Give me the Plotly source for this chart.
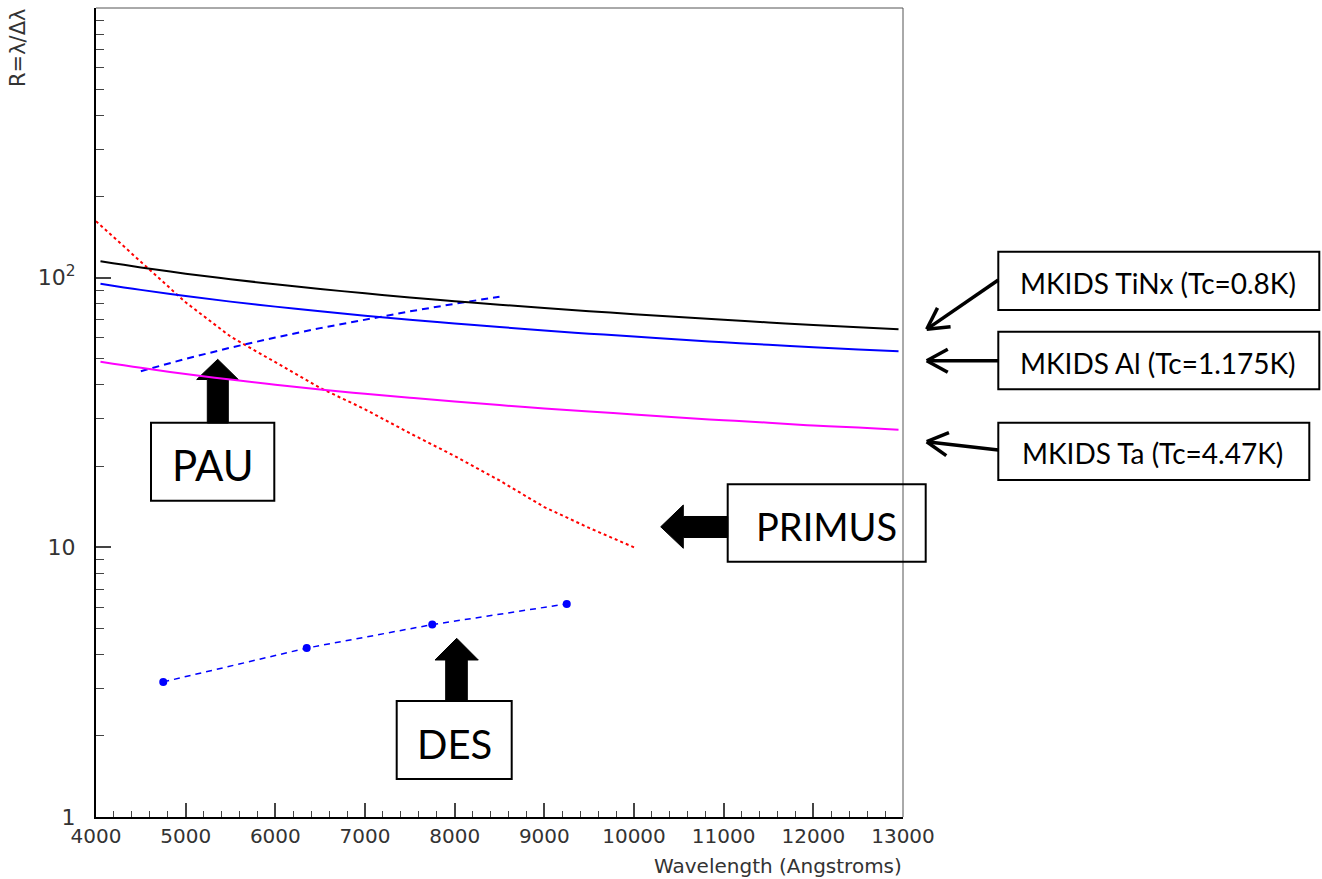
import math
import plotly.graph_objects as go

# ---------------- data ----------------
wl_mkids = [4050, 4500, 5000, 5500, 6000, 6500, 7000, 7500, 8000, 8500, 9000,
            9500, 10000, 10500, 11000, 11500, 12000, 12500, 12950]
r_tinx = [115, 109.1, 103.5, 98.7, 94.5, 90.8, 87.5, 84.5, 81.8, 79.4, 77.1,
          75.1, 73.2, 71.4, 69.8, 68.2, 66.8, 65.5, 64.4]
r_al = [95, 90.1, 85.5, 81.5, 78.1, 75.0, 72.3, 69.8, 67.6, 65.6, 63.7,
        62.0, 60.5, 59.0, 57.6, 56.4, 55.2, 54.1, 53.3]
r_ta = [48.8, 46.3, 43.9, 41.9, 40.1, 38.5, 37.1, 35.9, 34.7, 33.7, 32.7,
        31.9, 31.1, 30.3, 29.6, 29.0, 28.3, 27.8, 27.3]

wl_primus = [4000, 4500, 5000, 5500, 6000, 6500, 7000, 7500, 8000, 8500, 9000, 9500, 10000]
r_primus = [162, 115, 81, 60.5, 48.5, 39, 32.5, 26.5, 21.8, 17.7, 14.1, 11.8, 10.0]

wl_pau = [4500, 5000, 5500, 6000, 6500, 7000, 7500, 8000, 8500]
r_pau = [45, 50, 55, 60, 65, 70, 75, 80, 85]

wl_des = [4750, 6350, 7750, 9250]
r_des = [3.17, 4.23, 5.17, 6.17]

x_ticks = [4000, 5000, 6000, 7000, 8000, 9000, 10000, 11000, 12000, 13000]
x_ticktext = ["4000", "5000", "6000", "7000", "8000", "9000",
              "10000", "11000", "12000", "13000"]
y_ticks = [1, 10, 100]
y_ticktext = ["1", "10", "10<sup>2</sup>"]
y_minor = [2, 3, 4, 5, 6, 7, 8, 9, 20, 30, 40, 50, 60, 70, 80, 90,
           200, 300, 400, 500, 600, 700, 800, 900]

# ---------------- geometry helpers (pixel -> paper) ----------------
W, H = 1322, 879
L, RR, T, B = 96, 903, 8, 817


def px(x):
    return (x - L) / (RR - L)


def py(y):
    return (B - y) / (B - T)


def path(points):
    return "M " + " L ".join(f"{px(x):.5f},{py(y):.5f}" for x, y in points) + " Z"


fig = go.Figure()

fig.add_trace(go.Scatter(x=wl_primus, y=r_primus, mode="lines",
                         line=dict(color="#ff0000", width=2, dash="3px,3px")))
fig.add_trace(go.Scatter(x=wl_pau, y=r_pau, mode="lines",
                         line=dict(color="#0000ff", width=2, dash="7px,5px")))
fig.add_trace(go.Scatter(x=wl_mkids, y=r_tinx, mode="lines",
                         line=dict(color="#000000", width=2, shape="spline")))
fig.add_trace(go.Scatter(x=wl_mkids, y=r_al, mode="lines",
                         line=dict(color="#0000ff", width=2, shape="spline")))
fig.add_trace(go.Scatter(x=wl_mkids, y=r_ta, mode="lines",
                         line=dict(color="#ff00ff", width=2, shape="spline")))
fig.add_trace(go.Scatter(x=wl_des, y=r_des, mode="lines+markers",
                         line=dict(color="#0000ff", width=1.5, dash="6px,5px"),
                         marker=dict(color="#0000ff", size=8)))

shapes = []
# frame top / right
shapes.append(dict(type="line", xref="paper", yref="paper", x0=0, x1=1, y0=1, y1=1,
                   line=dict(color="#555555", width=1)))
shapes.append(dict(type="line", xref="paper", yref="paper", x0=1, x1=1, y0=0, y1=1,
                   line=dict(color="#555555", width=1)))

# block arrows (below traces)
pau_arrow = [(207.3, 423), (207.3, 379.5), (196.7, 379.5), (217.7, 359.3),
             (238.3, 379.5), (228.3, 379.5), (228.3, 423)]
des_arrow = [(445.7, 701), (445.7, 660), (435, 660), (456.7, 638.3),
             (478.3, 660), (467.3, 660), (467.3, 701)]
primus_arrow = [(727.7, 516.5), (683.3, 516.5), (683.3, 505), (660.7, 526.8),
                (683.3, 548.3), (683.3, 537.5), (727.7, 537.5)]
for arr in (pau_arrow, des_arrow, primus_arrow):
    shapes.append(dict(type="path", xref="paper", yref="paper", path=path(arr),
                       fillcolor="black", line=dict(color="black", width=1), layer="below"))

# boxes
boxes = [
    (151, 422.7, 274.3, 500.7),      # PAU
    (727.7, 484.3, 925.7, 561.7),    # PRIMUS
    (396.7, 701, 511.7, 779),        # DES
    (998.3, 251.7, 1319.3, 310),     # TiNx
    (998.3, 331.7, 1319.3, 389.3),   # Al
    (998.3, 422.7, 1309.3, 480),     # Ta
]
for x0, y0, x1, y1 in boxes:
    shapes.append(dict(type="rect", xref="paper", yref="paper",
                       x0=px(x0), x1=px(x1), y0=py(y1), y1=py(y0),
                       line=dict(color="black", width=2), fillcolor="rgba(0,0,0,0)"))

# thin MKIDS arrows with open chevron heads
mk_arrows = [((998.3, 280), (926.7, 329.3)),
             ((998.3, 360.7), (926.7, 360.7)),
             ((998.3, 450), (926.7, 441.7))]
for (sx, sy), (tx, ty) in mk_arrows:
    shapes.append(dict(type="line", xref="paper", yref="paper",
                       x0=px(sx), y0=py(sy), x1=px(tx + 2), y1=py(ty + (sy - ty) * 2 / (sx - tx)),
                       line=dict(color="black", width=3.5)))
    ang = math.atan2(sy - ty, sx - tx)
    for da in (0.5, -0.5):
        ex = tx + 24 * math.cos(ang + da)
        ey = ty + 24 * math.sin(ang + da)
        shapes.append(dict(type="line", xref="paper", yref="paper",
                           x0=px(tx), y0=py(ty), x1=px(ex), y1=py(ey),
                           line=dict(color="black", width=3.5)))

annotations = []
label_font = "Lato"
labels = [
    ("PAU", 212.5, 465, 42),
    ("PRIMUS", 826, 526, 38),
    ("DES", 454, 744, 40),
    ("MKIDS TiNx (Tc=0.8K)", 1157.5, 283, 28),
    ("MKIDS Al (Tc=1.175K)", 1157.5, 363, 28),
    ("MKIDS Ta (Tc=4.47K)", 1152, 453, 28),
]
for text, x, y, size in labels:
    annotations.append(dict(text=text, xref="paper", yref="paper", x=px(x), y=py(y),
                            xanchor="center", yanchor="middle", showarrow=False,
                            font=dict(family=label_font, size=size, color="black")))

annotations.append(dict(text="Wavelength (Angstroms)", xref="paper", yref="paper",
                        x=px(904), y=py(866), xanchor="right", yanchor="middle",
                        showarrow=False,
                        font=dict(family="DejaVu Sans", size=20, color="#333333")))
annotations.append(dict(text="R=λ/Δλ", xref="paper", yref="paper",
                        x=px(18), y=py(7), xanchor="center", yanchor="top",
                        textangle=-90, showarrow=False,
                        font=dict(family="DejaVu Sans", size=21, color="#333333")))

fig.update_layout(
    width=W, height=H,
    margin=dict(l=L, r=W - RR, t=T, b=H - B, pad=0),
    paper_bgcolor="white", plot_bgcolor="white",
    showlegend=False,
    shapes=shapes,
    annotations=annotations,
    xaxis=dict(range=[4000, 13000], tickvals=x_ticks, ticktext=x_ticktext,
               ticks="inside", ticklen=14, ticklabelstandoff=0,
               tickwidth=1.5, tickcolor="#444444", showgrid=False, zeroline=False,
               showline=True, linecolor="black", linewidth=2,
               tickfont=dict(family="DejaVu Sans", size=20, color="#333333"),
               minor=dict(dtick=200, tick0=4000, ticks="inside", ticklen=6,
                          tickwidth=1, tickcolor="#444444", showgrid=False)),
    yaxis=dict(type="log", range=[0, 3], tickvals=y_ticks, ticktext=y_ticktext,
               ticks="inside", ticklen=15, tickwidth=1.5, tickcolor="#444444",
               showgrid=False, zeroline=False, showline=True, linecolor="black",
               linewidth=2, ticklabelstandoff=14,
               tickfont=dict(family="DejaVu Sans", size=22, color="#333333"),
               minor=dict(tickvals=y_minor, ticks="inside", ticklen=8, tickwidth=1,
                          tickcolor="#444444", showgrid=False)),
)

fig.write_html("out.html")
